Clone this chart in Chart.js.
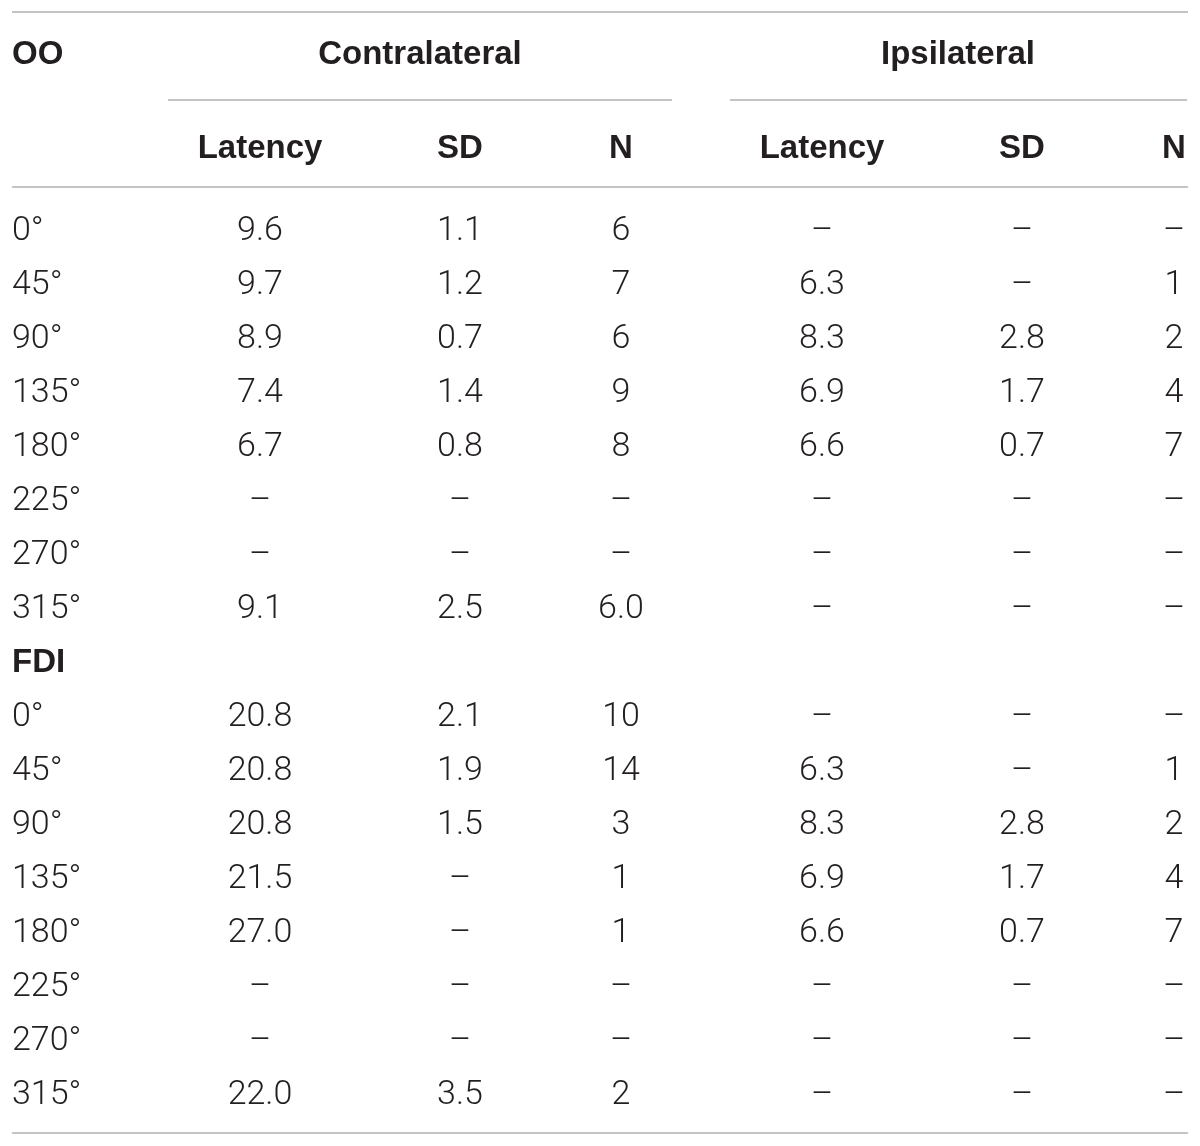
<!DOCTYPE html>
<html><head><meta charset="utf-8">
<script src="https://cdn.jsdelivr.net/npm/chart.js@4.4.1/dist/chart.umd.min.js"></script>
<style>html,body{margin:0;padding:0;background:#fff}#wrap{width:1200px;height:1146px;position:relative}</style>
</head><body><div id="wrap"><canvas id="c" width="1200" height="1146"></canvas></div>
<script>
// ---------- DATA ----------
const groups = ['OO', 'FDI'];
const sideHeaders = ['Contralateral', 'Ipsilateral'];
const columnHeaders = ['Latency', 'SD', 'N', 'Latency', 'SD', 'N'];
const angles = ['0°', '45°', '90°', '135°', '180°', '225°', '270°', '315°'];

const ooContraLatency = [9.6, 9.7, 8.9, 7.4, 6.7, null, null, 9.1];
const ooContraSD      = [1.1, 1.2, 0.7, 1.4, 0.8, null, null, 2.5];
const ooContraN       = ['6', '7', '6', '9', '8', null, null, '6.0'];
const ooIpsiLatency   = [null, 6.3, 8.3, 6.9, 6.6, null, null, null];
const ooIpsiSD        = [null, null, 2.8, 1.7, 0.7, null, null, null];
const ooIpsiN         = [null, '1', '2', '4', '7', null, null, null];

const fdiContraLatency = [20.8, 20.8, 20.8, 21.5, 27.0, null, null, 22.0];
const fdiContraSD      = [2.1, 1.9, 1.5, null, null, null, null, 3.5];
const fdiContraN       = ['10', '14', '3', '1', '1', null, null, '2'];
const fdiIpsiLatency   = [null, 6.3, 8.3, 6.9, 6.6, null, null, null];
const fdiIpsiSD        = [null, null, 2.8, 1.7, 0.7, null, null, null];
const fdiIpsiN         = [null, '1', '2', '4', '7', null, null, null];

// ---------- LAYOUT (positions / styles) ----------
const colX = [12, 260, 460, 621, 822, 1022, 1174];
const sideHeaderX = [420, 958];
const header1Y = -3.26, header2Y = -1.52;
const ruleLines = [
  {y: -4.0,  x0: 12,  x1: 1188},
  {y: -2.37, x0: 168, x1: 672},
  {y: -2.37, x0: 730, x1: 1187},
  {y: -0.76, x0: 12,  x1: 1188},
  {y: 16.76, x0: 12,  x1: 1188}
];
const TEXT_COLOR = '#231f20';
const RULE_COLOR = '#c4c4c4';
const FS_BOLD = 33, FS_LIGHT = 34;
const BOLD = `bold ${FS_BOLD}px "Liberation Sans", Arial, sans-serif`;
const LIGHT = `300 ${FS_LIGHT}px Roboto, "Liberation Sans", sans-serif`;

const fmt1 = v => v == null ? '–' : v.toFixed(1);
const fmtS = v => v == null ? '–' : v;

// ---------- BUILD DATASETS ----------
const datasets = [];
function textSet(points, font, align, off) {
  datasets.push({type: 'scatter', data: points, pointRadius: 0, font, align, off, isText: true});
}
const offB = FS_BOLD * 0.358, offL = FS_LIGHT * 0.355;
// header row 1
textSet([{x: colX[0], y: header1Y, t: groups[0]}], BOLD, 'left', offB);
textSet(sideHeaders.map((h, i) => ({x: sideHeaderX[i], y: header1Y, t: h})), BOLD, 'center', offB);
// header row 2
textSet(columnHeaders.map((h, i) => ({x: colX[i + 1], y: header2Y, t: h})), BOLD, 'center', offB);

const blocks = [
  [ooContraLatency, ooContraSD, ooContraN, ooIpsiLatency, ooIpsiSD, ooIpsiN],
  [fdiContraLatency, fdiContraSD, fdiContraN, fdiIpsiLatency, fdiIpsiSD, fdiIpsiN]
];
blocks.forEach((cols, b) => {
  const base = b * (angles.length + 1);
  if (b > 0) textSet([{x: colX[0], y: base - 1, t: groups[b]}], BOLD, 'left', offB);
  textSet(angles.map((a, r) => ({x: colX[0], y: base + r, t: a})), LIGHT, 'left', offL);
  cols.forEach((arr, c) => {
    const f = (c % 3 === 2) ? fmtS : fmt1;
    textSet(arr.map((v, r) => ({x: colX[c + 1], y: base + r, t: f(v)})), LIGHT, 'center', offL);
  });
});
ruleLines.forEach(l => datasets.push({
  type: 'scatter', showLine: true, data: [{x: l.x0, y: l.y}, {x: l.x1, y: l.y}],
  borderColor: RULE_COLOR, borderWidth: 2, pointRadius: 0
}));

const textPlugin = {
  id: 'cellText',
  afterDatasetsDraw(chart) {
    const ctx = chart.ctx;
    ctx.save();
    ctx.fillStyle = TEXT_COLOR;
    ctx.textBaseline = 'alphabetic';
    chart.data.datasets.forEach((ds, di) => {
      if (!ds.isText) return;
      const meta = chart.getDatasetMeta(di);
      ctx.font = ds.font;
      ctx.textAlign = ds.align;
      meta.data.forEach((el, i) => {
        ctx.fillText(ds.data[i].t, el.x, el.y + ds.off);
      });
    });
    ctx.restore();
  }
};

new Chart(document.getElementById('c'), {
  type: 'scatter',
  data: {datasets},
  options: {
    responsive: false, animation: false, events: [],
    layout: {padding: 0},
    plugins: {legend: {display: false}, tooltip: {enabled: false}},
    scales: {
      x: {type: 'linear', min: 0, max: 1200, display: false},
      y: {type: 'linear', min: -4.2222, max: 17, reverse: true, display: false}
    }
  },
  plugins: [textPlugin]
});
</script></body></html>
